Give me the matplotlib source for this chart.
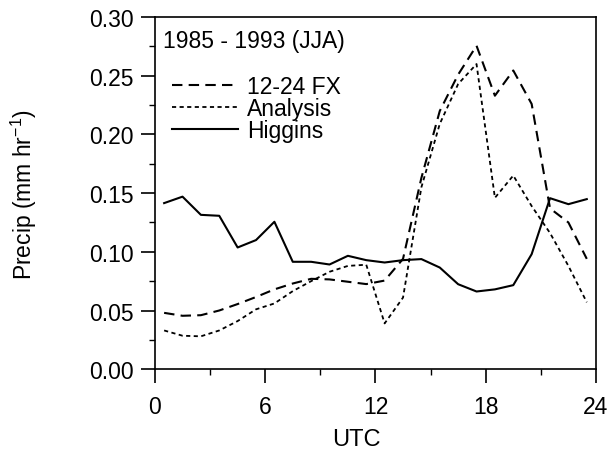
import matplotlib
matplotlib.use("Agg")
import matplotlib.pyplot as plt
from matplotlib.ticker import MultipleLocator

plt.rcParams['font.family'] = ['Liberation Sans', 'DejaVu Sans']
plt.rcParams['mathtext.default'] = 'regular'

hours = [0.5, 1.5, 2.5, 3.5, 4.5, 5.5, 6.5, 7.5, 8.5, 9.5, 10.5, 11.5,
         12.5, 13.5, 14.5, 15.5, 16.5, 17.5, 18.5, 19.5, 20.5, 21.5, 22.5, 23.5]

fx_12_24 = [0.048, 0.0455, 0.046, 0.050, 0.0555, 0.0615, 0.068, 0.073, 0.077, 0.0765,
            0.0745, 0.0725, 0.0755, 0.094, 0.163, 0.220, 0.251, 0.2756, 0.233, 0.2545,
            0.226, 0.137, 0.125, 0.094]
analysis = [0.033, 0.0285, 0.028, 0.033, 0.041, 0.051, 0.056, 0.0665, 0.075, 0.083,
            0.088, 0.089, 0.039, 0.061, 0.155, 0.209, 0.243, 0.260, 0.146, 0.165,
            0.139, 0.116, 0.088, 0.057]
higgins = [0.1415, 0.147, 0.1315, 0.1307, 0.1037, 0.110, 0.1256, 0.0915, 0.0915, 0.0892,
           0.0966, 0.0929, 0.0909, 0.0929, 0.0938, 0.0866, 0.0724, 0.0662, 0.068, 0.0716,
           0.098, 0.1457, 0.1406, 0.1449]

series_labels = ["12-24 FX", "Analysis", "Higgins"]
legend_title = "1985 - 1993 (JJA)"

fig = plt.figure(figsize=(6.10, 4.52), dpi=100)
ax = fig.add_axes([0.254, 0.181, 0.723, 0.779])

ax.plot(hours, fx_12_24, color='black', lw=1.5, dashes=(5, 3), label=series_labels[0])
ax.plot(hours, analysis, color='black', lw=1.3, dashes=(2.3, 1.9), label=series_labels[1])
ax.plot(hours, higgins, color='black', lw=1.5, linestyle='-', label=series_labels[2])

ax.set_xlim(0, 24)
ax.set_ylim(0, 0.30)
ax.xaxis.set_major_locator(MultipleLocator(6))
ax.xaxis.set_minor_locator(MultipleLocator(3))
ax.yaxis.set_major_locator(MultipleLocator(0.05))
ax.yaxis.set_minor_locator(MultipleLocator(0.025))
ax.set_yticks(ax.get_yticks())
ax.set_yticklabels([f"{v:.2f}" for v in ax.get_yticks()])
ax.set_ylim(0, 0.30)

ax.tick_params(axis='both', which='major', direction='out', length=10, width=1.2,
               labelsize=16.5)
ax.tick_params(axis='y', which='major', pad=5)
ax.tick_params(axis='x', which='major', pad=8.5)
ax.tick_params(axis='both', which='minor', direction='out', length=4.5, width=1.0)
for s in ax.spines.values():
    s.set_linewidth(1.2)

ax.set_xlabel("UTC", fontsize=17, labelpad=7, x=0.456)
ax.set_ylabel("Precip (mm hr$^{-1}$)", fontsize=16.5, labelpad=36)

ax.text(0.019, 0.933, legend_title, transform=ax.transAxes, fontsize=16.5,
        ha='left', va='center')
leg = ax.legend(loc='upper left', bbox_to_anchor=(0.038, 0.835), frameon=False,
                fontsize=16.5, handlelength=2.9, handletextpad=0.38,
                labelspacing=-0.05, borderpad=0, borderaxespad=0)

fig.savefig("out.png", dpi=100)
